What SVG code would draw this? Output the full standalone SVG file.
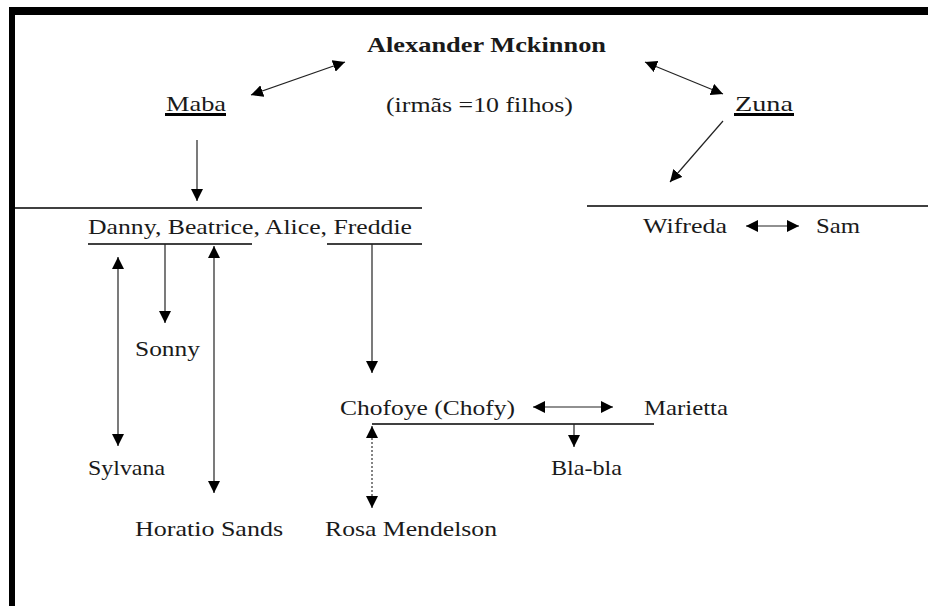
<svg xmlns="http://www.w3.org/2000/svg" width="928" height="606" viewBox="0 0 928 606">
<style>
text{font-family:"Liberation Serif","Times New Roman",serif;font-size:22px;fill:#1a1a1a}
.b{font-weight:bold}
.rule{stroke:#000;stroke-width:1.6;fill:none}
.c{stroke:#222;stroke-width:1.2;fill:none}
.d{stroke:#333;stroke-width:1.2;stroke-dasharray:2 2;fill:none}
</style>
<defs>
<marker id="ah" markerUnits="userSpaceOnUse" markerWidth="13" markerHeight="12" refX="12" refY="6" orient="auto-start-reverse" viewBox="0 0 13 12">
<path d="M0,0 L12,6 L0,12 z" fill="#000"/>
</marker>
</defs>
<rect width="928" height="606" fill="#fff"/>
<g id="frame">
<rect x="9" y="7" width="919" height="8" fill="#000"/>
<rect x="9" y="7" width="6" height="599" fill="#000"/>
</g>
<g id="rules">
<line class="rule" x1="15" y1="208" x2="422" y2="208"/>
<line class="rule" x1="587" y1="206" x2="928" y2="206"/>
<line class="rule" x1="88" y1="244" x2="252" y2="244"/>
<line class="rule" x1="327" y1="244" x2="422" y2="244"/>
<line class="rule" x1="372" y1="424" x2="654" y2="424"/>
</g>
<g id="connectors">
<line class="c" x1="251" y1="95" x2="345" y2="62" marker-start="url(#ah)" marker-end="url(#ah)"/>
<line class="c" x1="645" y1="62" x2="723" y2="94" marker-start="url(#ah)" marker-end="url(#ah)"/>
<line class="c" x1="197" y1="140" x2="197" y2="201" marker-end="url(#ah)"/>
<line class="c" x1="723" y1="121" x2="670" y2="182" marker-end="url(#ah)"/>
<line class="c" x1="746" y1="226" x2="799" y2="226" marker-start="url(#ah)" marker-end="url(#ah)"/>
<line class="c" x1="165" y1="244" x2="165" y2="323" marker-end="url(#ah)"/>
<line class="c" x1="118" y1="257" x2="118" y2="446" marker-start="url(#ah)" marker-end="url(#ah)"/>
<line class="c" x1="214" y1="246" x2="214" y2="493" marker-start="url(#ah)" marker-end="url(#ah)"/>
<line class="c" x1="372" y1="244" x2="372" y2="373" marker-end="url(#ah)"/>
<line class="c" x1="533" y1="407" x2="613" y2="407" marker-start="url(#ah)" marker-end="url(#ah)"/>
<line class="c" x1="574" y1="424" x2="574" y2="447" marker-end="url(#ah)"/>
<line class="d" x1="372" y1="426" x2="372" y2="508" marker-start="url(#ah)" marker-end="url(#ah)"/>
</g>
<g id="alexander"><text class="b" x="367" y="52" textLength="239" lengthAdjust="spacingAndGlyphs">Alexander Mckinnon</text></g>
<g id="maba"><text x="166" y="111" textLength="60" lengthAdjust="spacingAndGlyphs">Maba</text><rect x="165" y="113" width="61" height="3" fill="#000"/></g>
<g id="note"><text x="386" y="112" textLength="187" lengthAdjust="spacingAndGlyphs">(irmãs =10 filhos)</text></g>
<g id="zuna"><text x="735" y="111" textLength="58" lengthAdjust="spacingAndGlyphs">Zuna</text><rect x="734" y="113" width="60" height="3" fill="#000"/></g>
<g id="children"><text x="88" y="234" textLength="324" lengthAdjust="spacingAndGlyphs">Danny, Beatrice, Alice, Freddie</text></g>
<g id="wifreda"><text x="643" y="233" textLength="84" lengthAdjust="spacingAndGlyphs">Wifreda</text></g>
<g id="sam"><text x="816" y="233" textLength="44" lengthAdjust="spacingAndGlyphs">Sam</text></g>
<g id="sonny"><text x="135" y="356" textLength="65" lengthAdjust="spacingAndGlyphs">Sonny</text></g>
<g id="chofoye"><text x="340" y="415" textLength="175" lengthAdjust="spacingAndGlyphs">Chofoye (Chofy)</text></g>
<g id="marietta"><text x="644" y="415" textLength="84" lengthAdjust="spacingAndGlyphs">Marietta</text></g>
<g id="sylvana"><text x="88" y="475" textLength="77" lengthAdjust="spacingAndGlyphs">Sylvana</text></g>
<g id="blabla"><text x="551" y="475" textLength="71" lengthAdjust="spacingAndGlyphs">Bla-bla</text></g>
<g id="horatio"><text x="135" y="536" textLength="148" lengthAdjust="spacingAndGlyphs">Horatio Sands</text></g>
<g id="rosa"><text x="325" y="536" textLength="172" lengthAdjust="spacingAndGlyphs">Rosa Mendelson</text></g>
</svg>
